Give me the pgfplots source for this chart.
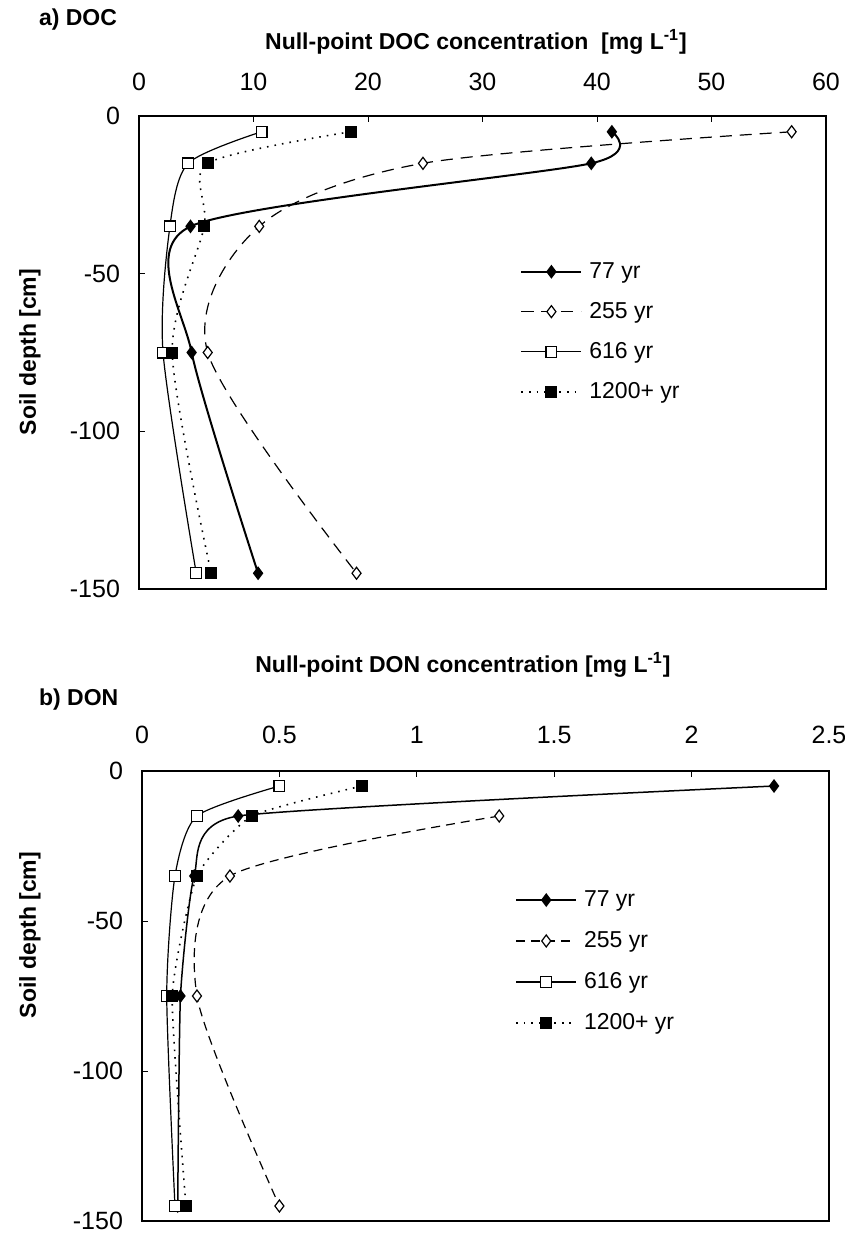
\documentclass[border=0pt]{standalone}
\usepackage{fontspec}
\setmainfont{Liberation Sans}
\usepackage{pgfplots}
\pgfplotsset{compat=1.18}
\newcommand{\fs}{\fontsize{11.5}{13}\selectfont}
\newcommand{\ft}{\fontsize{12.5}{14}\selectfont}
\pgfplotsset{
  panel/.style={
    scale only axis, width=343.5pt,
    ymin=-150, ymax=0,
    ytick={0,-50,-100,-150},
    yticklabels={0,-50,-100,-150},
    xtick pos=right, xticklabel pos=right, ytick pos=left,
    tick align=inside, major tick length=3pt,
    tick style={black, line width=0.4pt},
    axis line style={line width=0.9pt},
    every tick label/.append style={font=\ft},
    yticklabel style={xshift=-6pt},
    legend cell align=left,
    legend style={draw=none, fill=none, inner sep=0pt, anchor=north west,
      row sep=6.5pt, column sep=1.5pt, font=\fs},
    legend image code/.code={\draw[mark repeat=2,mark phase=2,##1] plot coordinates {(0pt,0pt)(15pt,0pt)(30pt,0pt)};},
  },
  s77/.style={black, line width=1pt, smooth, tension=0.3, mark=diamond*, mark size=3pt, mark options={solid, fill=black, line width=0.6pt}},
  s255/.style={black, line width=0.6pt, smooth, tension=0.5, dash pattern=on 6pt off 4pt, mark=diamond*, mark size=3pt, mark options={solid, fill=white, line width=0.6pt}},
  s616/.style={black, line width=0.6pt, smooth, tension=0.45, mark=square*, mark size=2.7pt, mark options={solid, fill=white, line width=0.6pt}},
  s1200/.style={black, line width=0.8pt, smooth, tension=0.45, dash pattern=on 0.8pt off 3pt, mark=square*, mark size=2.7pt, mark options={solid, fill=black, line width=0.6pt}},
}
\begin{document}
\begin{tikzpicture}
\path[use as bounding box] (0,0) rectangle (422.5pt,-616.5pt);
% Panel a
\begin{axis}[panel, at={(69.5pt,-294.5pt)}, anchor=south west, height=236.5pt,
  xmin=0, xmax=60, xtick={0,10,20,30,40,50,60}, xticklabels={0,10,20,30,40,50,60},
  xticklabel style={yshift=9pt},
  legend style={at={(0.5546,0.700)}}]
\addplot[s77, tension=0.42] coordinates {(41.3,-5) (39.5,-15) (4.5,-35) (4.6,-75) (10.4,-145)};
\addlegendentry{77 yr}
\addplot[s255] coordinates {(57.0,-5) (24.8,-15) (10.5,-35) (6.0,-75) (19.0,-145)};
\addlegendentry{255 yr}
\addplot[s616] coordinates {(10.7,-5) (4.3,-15) (2.7,-35) (2.1,-75) (5.0,-145)};
\addlegendentry{616 yr}
\addplot[s1200] coordinates {(18.5,-5) (6.0,-15) (5.7,-35) (2.9,-75) (6.3,-145)};
\addlegendentry{1200+ yr}
\end{axis}
% Panel b
\begin{axis}[panel, at={(71pt,-610.5pt)}, anchor=south west, height=225pt,
  xmin=0, xmax=2.5, xtick={0,0.5,1,1.5,2,2.5}, xticklabels={0,0.5,1,1.5,2,2.5},
  xticklabel style={yshift=10pt},
  legend style={at={(0.543,0.744)}, row sep=7pt}]
\addplot[s77, line width=0.75pt, tension=0.3] coordinates {(2.3,-5) (0.35,-15) (0.19,-35) (0.14,-75) (0.13,-145)};
\addlegendentry{77 yr}
\addplot[s255, tension=0.45, dash pattern=on 4.5pt off 3pt] coordinates {(1.3,-15) (0.32,-35) (0.2,-75) (0.5,-145)};
\addlegendentry{255 yr}
\addplot[s616, tension=0.4] coordinates {(0.5,-5) (0.2,-15) (0.12,-35) (0.09,-75) (0.12,-145)};
\addlegendentry{616 yr}
\addplot[s1200, tension=0.3] coordinates {(0.8,-5) (0.4,-15) (0.2,-35) (0.11,-75) (0.16,-145)};
\addlegendentry{1200+ yr}
\end{axis}
\begin{scope}[x=0.5pt,y=-0.5pt, every node/.style={font=\bfseries\fs}]
\node[anchor=west] at (32,20) {a) DOC};
\node at (476,42) {Null-point DOC concentration\ \ [mg L\textsuperscript{-1}]};
\node[rotate=90] at (30,352) {Soil depth [cm]};
\node[anchor=west] at (32,700) {b) DON};
\node at (463,665) {Null-point DON concentration [mg L\textsuperscript{-1}]};
\node[rotate=90] at (30,935) {Soil depth [cm]};
\end{scope}
\end{tikzpicture}
\end{document}
